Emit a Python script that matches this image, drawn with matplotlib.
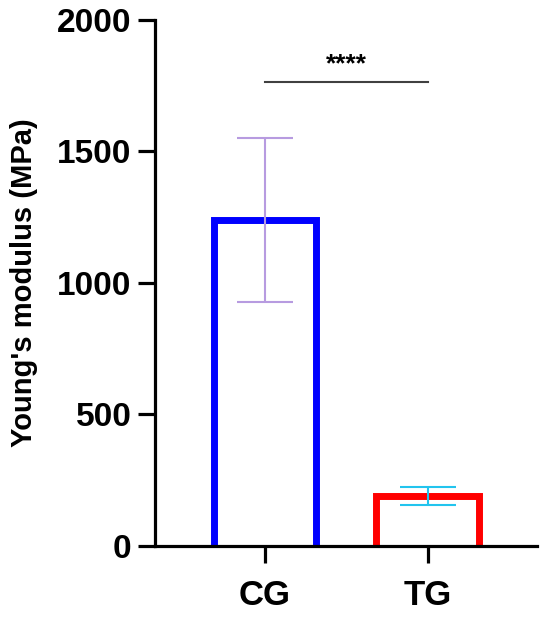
import matplotlib
matplotlib.use("Agg")
import matplotlib.pyplot as plt

# Data
groups = ['CG', 'TG']
modulus = [1240, 190]
sd = [312, 34]
bar_colors = ['#0000FF', '#FF0000']
err_colors = ['#B79BE0', '#22C4EE']

plt.rcParams['font.family'] = ['Liberation Sans', 'DejaVu Sans']
plt.rcParams['font.weight'] = 'bold'

fig = plt.figure(figsize=(5.5, 6.19), dpi=100)
ax = fig.add_axes([0.282, 0.118, 0.694, 0.850])

w = 0.63
x = list(range(len(groups)))
# open-bottom bar outlines (Prism style)
for i in x:
    ax.plot([i - w / 2, i - w / 2, i + w / 2, i + w / 2], [0, modulus[i], modulus[i], 0],
            color=bar_colors[i], linewidth=5, solid_joinstyle='miter', zorder=2)
    ax.errorbar(i, modulus[i], yerr=sd[i], color=err_colors[i], elinewidth=1.5,
                capsize=20, capthick=1.5, zorder=3)

# significance bar
ax.plot([0, 1], [1765, 1765], color='#404040', linewidth=1.5, zorder=3)
ax.text(0.5, 1785, '****', ha='center', va='bottom', fontsize=19, fontweight='bold')

ax.set_xlim(-0.675, 1.67)
ax.set_ylim(0, 2000)
ax.set_yticks([0, 500, 1000, 1500, 2000])
ax.set_xticks(x)
ax.set_xticklabels(groups)
ax.set_ylabel("Young's modulus (MPa)", fontsize=21, fontweight='bold', labelpad=14)

for s in ['top', 'right']:
    ax.spines[s].set_visible(False)
for s in ['left', 'bottom']:
    ax.spines[s].set_linewidth(2.3)
    ax.spines[s].set_zorder(4)
ax.tick_params(axis='both', width=2.3, length=12, labelsize=24, pad=5)
ax.tick_params(axis='x', labelsize=25, pad=12)

fig.savefig('out.png', dpi=100)
